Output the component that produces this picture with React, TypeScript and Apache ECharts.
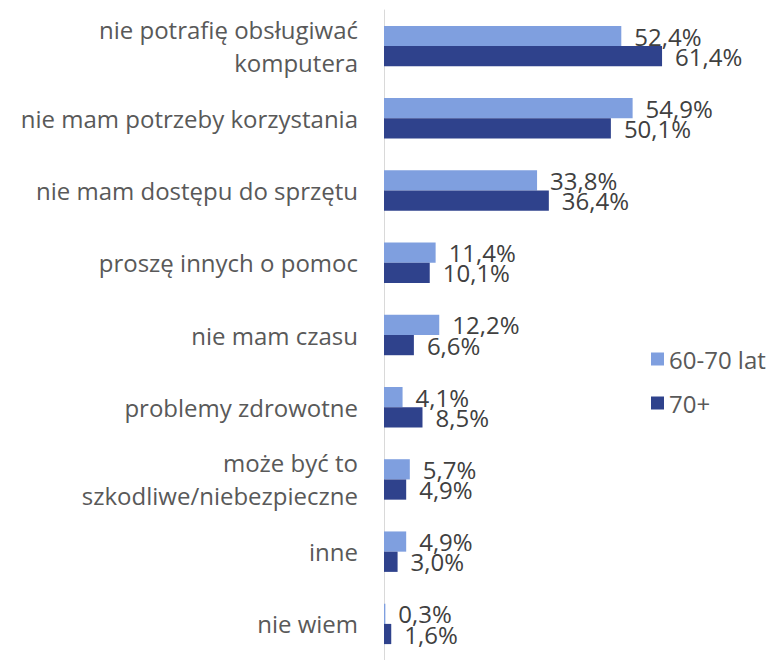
import React, { useEffect, useRef } from "react";
import * as echarts from "echarts";

const categories = [
  "nie potrafię obsługiwać\nkomputera",
  "nie mam potrzeby korzystania",
  "nie mam dostępu do sprzętu",
  "proszę innych o pomoc",
  "nie mam czasu",
  "problemy zdrowotne",
  "może być to\nszkodliwe/niebezpieczne",
  "inne",
  "nie wiem",
];
const series6070 = [52.4, 54.9, 33.8, 11.4, 12.2, 4.1, 5.7, 4.9, 0.3];
const series70plus = [61.4, 50.1, 36.4, 10.1, 6.6, 8.5, 4.9, 3.0, 1.6];
const seriesNames = ["60-70 lat", "70+"];

const FONT = "'Open Sans', Lato, sans-serif";
const fmt = (v: number) => v.toFixed(1).replace(".", ",") + "%";

export default function App() {
  const ref = useRef<HTMLDivElement>(null);
  useEffect(() => {
    document.body.style.margin = "0";
    const chart = echarts.init(ref.current!, null, { renderer: "svg" });
    const label = {
      show: true,
      position: "right" as const,
      distance: 13,
      color: "#404040",
      fontSize: 24,
      fontFamily: FONT,
      padding: [3, 0, 0, 0],
      formatter: (p: any) => fmt(p.value),
    };
    chart.setOption({
      animation: false,
      textStyle: { fontFamily: FONT },
      legend: {
        orient: "vertical",
        left: 646,
        top: 342,
        itemWidth: 13,
        itemHeight: 13,
        itemGap: 20,
        icon: "rect",
        textStyle: { fontSize: 24, color: "#595959", fontFamily: FONT },
        data: seriesNames,
      },
      grid: { left: 384, right: 71, top: 10, bottom: -7, containLabel: false },
      xAxis: {
        type: "value",
        min: 0,
        max: 70,
        show: false,
      },
      yAxis: {
        type: "category",
        inverse: true,
        data: categories,
        axisLine: { show: true, lineStyle: { color: "#d9d9d9", width: 1 } },
        axisTick: { show: false },
        axisLabel: {
          color: "#595959",
          fontSize: 24,
          fontFamily: FONT,
          margin: 26,
          align: "right",
          lineHeight: 33,
          padding: [8, 0, 0, 0],
        },
      },
      series: [
        {
          name: seriesNames[0],
          type: "bar",
          data: series6070,
          itemStyle: { color: "#7F9FDF" },
          barGap: "0%",
          barCategoryGap: "44%",
          label,
        },
        {
          name: seriesNames[1],
          type: "bar",
          data: series70plus,
          itemStyle: { color: "#2F428C" },
          barGap: "0%",
          barCategoryGap: "44%",
          label,
        },
      ],
    });
    return () => chart.dispose();
  }, []);
  return <div ref={ref} style={{ width: 772, height: 660 }} />;
}
